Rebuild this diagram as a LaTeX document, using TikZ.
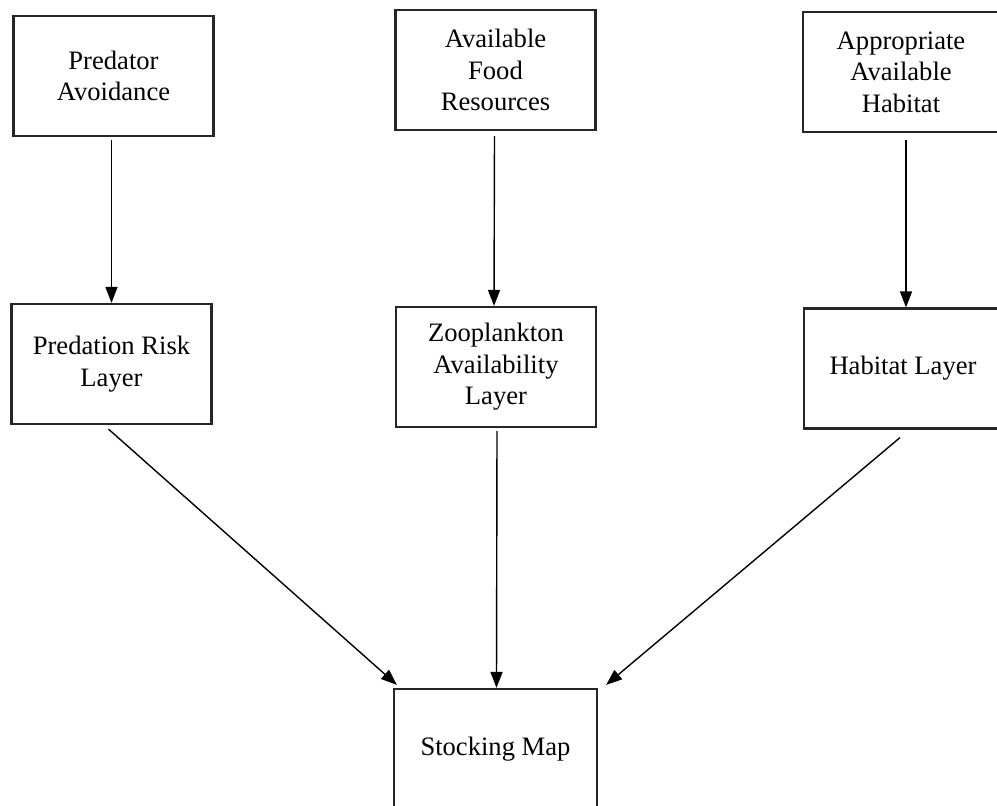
\documentclass[tikz,border=0pt]{standalone}
\usepackage{fontspec}
\setmainfont{Liberation Serif}
\usetikzlibrary{arrows.meta,calc}

\begin{document}
\begin{tikzpicture}[x=0.5pt,y=-0.5pt,
  box/.style={draw=black!85,line width=1.1pt,minimum width=100pt,minimum height=60pt,align=center,inner sep=0pt,font=\fontsize{13.3}{15.8}\selectfont},
  arr/.style={line width=0.7pt,-{Triangle[length=8pt,width=6pt]}}]
\useasboundingbox (0,0) rectangle (997,805);
\node [box] (pa) at (113.5,76) {Predator\\Avoidance};
\node [box] (afr) at (495.5,70) {Available\\Food\\Resources};
\node [box,minimum width=98pt] (aah) at (901,72) {Appropriate\\Available\\Habitat};
\node [box] (prl) at (111.5,364) {Predation Risk\\Layer};
\node [box] (zal) at (496,367) {Zooplankton\\Availability\\Layer};
\node [box,minimum width=99pt] (hl) at (903,368.5) {Habitat Layer};
\node [box,minimum width=101.5pt] (sm) at (495.5,749) {Stocking Map};
\draw [arr] ($(pa.south)+(-2,3)$) -- (prl.north);
\draw [arr] ($(afr.south)+(-1,5)$) -- ($(zal.north)+(-2,0)$);
\draw [arr] ($(aah.south)+(5,7)$) -- ($(hl.north)+(3,0)$);
\draw [arr] ($(prl.south)+(-3,4)$) -- ($(sm.north west)+(4,-3)$);
\draw [arr] ($(zal.south)+(1,3)$) -- ($(sm.north)+(1,0)$);
\draw [arr] ($(hl.south)+(-3,8)$) -- ($(sm.north east)+(8,-3)$);
\end{tikzpicture}
\end{document}
